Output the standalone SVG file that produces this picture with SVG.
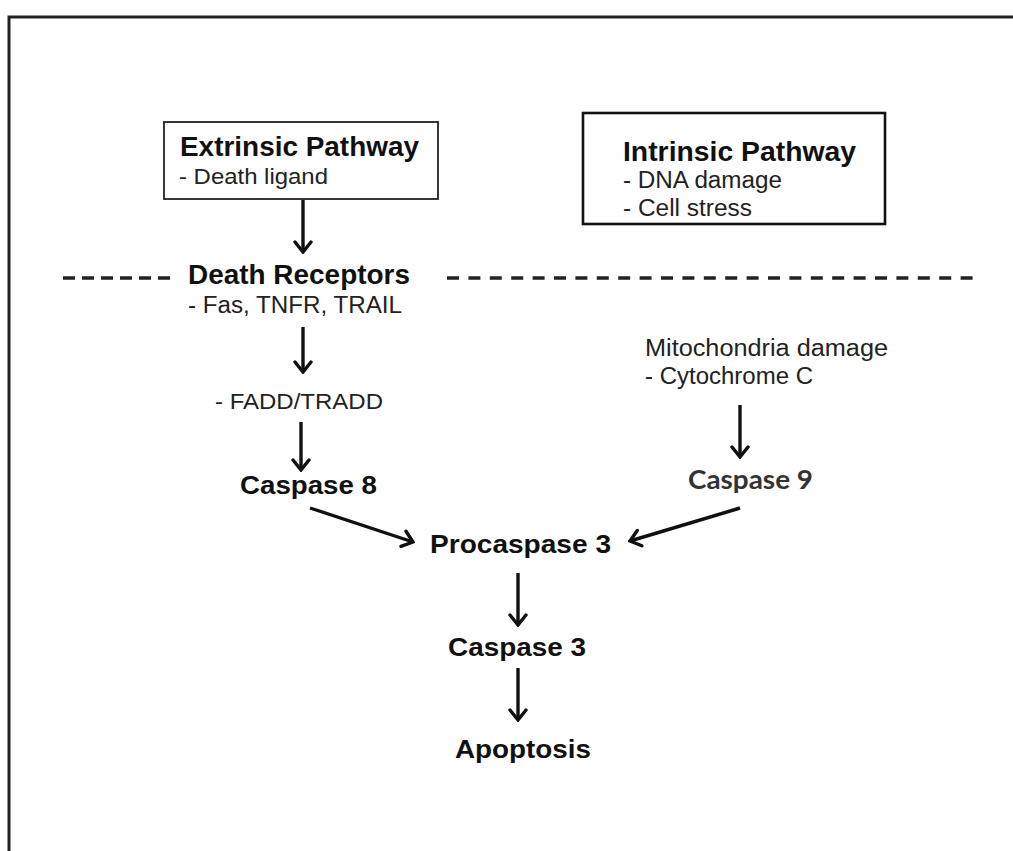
<svg xmlns="http://www.w3.org/2000/svg" width="1013" height="851" viewBox="0 0 1013 851">
  <defs>
    <marker id="head" viewBox="-13 -10 15 20" refX="0" refY="0" markerWidth="15" markerHeight="20" markerUnits="userSpaceOnUse" orient="auto">
      <path d="M-10,-8 L0,0 L-10,8" fill="none" stroke="#111" stroke-width="3.4" stroke-linecap="round" stroke-linejoin="miter"/>
    </marker>
    <style>
      .b { font-family: "Liberation Sans", Arial, sans-serif; font-weight: bold; fill: #111; }
      .r { font-family: "Liberation Sans", Arial, sans-serif; fill: #222; }
      .c { font-family: Lato, "Open Sans", sans-serif; font-weight: bold; fill: #333; }
      .arr { stroke: #111; stroke-width: 3.4; fill: none; marker-end: url(#head); }
      .dash { stroke: #222; stroke-width: 3.5; fill: none; }
    </style>
  </defs>
  <rect width="1013" height="851" fill="#fff"/>
  <rect id="frame" x="9" y="17" width="1012" height="845" fill="none" stroke="#222" stroke-width="3"/>

  <g id="divider">
    <line class="dash" x1="63" y1="278" x2="172" y2="278" stroke-dasharray="12 7"/>
    <line class="dash" x1="447" y1="278" x2="974" y2="278" stroke-dasharray="12 9.4"/>
  </g>

  <g id="extrinsic">
    <rect x="164" y="122" width="274" height="77" fill="#fff" stroke="#222" stroke-width="1.8"/>
    <text class="b" x="180" y="156" font-size="27" textLength="239" lengthAdjust="spacingAndGlyphs">Extrinsic Pathway</text>
    <text class="r" x="179" y="184" font-size="22" textLength="149" lengthAdjust="spacingAndGlyphs">- Death ligand</text>
  </g>

  <g id="intrinsic">
    <rect x="583" y="113" width="302" height="111" fill="#fff" stroke="#111" stroke-width="2.6"/>
    <text class="b" x="623" y="161" font-size="27" textLength="233" lengthAdjust="spacingAndGlyphs">Intrinsic Pathway</text>
    <text class="r" x="623" y="188" font-size="23" textLength="159" lengthAdjust="spacingAndGlyphs">- DNA damage</text>
    <text class="r" x="623" y="216" font-size="23" textLength="129" lengthAdjust="spacingAndGlyphs">- Cell stress</text>
  </g>

  <g id="death-receptors">
    <text class="b" x="188" y="284" font-size="27" textLength="222" lengthAdjust="spacingAndGlyphs">Death Receptors</text>
    <text class="r" x="188" y="313" font-size="23" textLength="214" lengthAdjust="spacingAndGlyphs">- Fas, TNFR, TRAIL</text>
  </g>

  <g id="fadd">
    <text class="r" x="215" y="409" font-size="22" textLength="168" lengthAdjust="spacingAndGlyphs">- FADD/TRADD</text>
  </g>

  <g id="caspase8">
    <text class="b" x="240" y="494" font-size="25" textLength="137" lengthAdjust="spacingAndGlyphs">Caspase 8</text>
  </g>

  <g id="mitochondria">
    <text class="r" x="645" y="356" font-size="23" textLength="243" lengthAdjust="spacingAndGlyphs">Mitochondria damage</text>
    <text class="r" x="645" y="384" font-size="23" textLength="168" lengthAdjust="spacingAndGlyphs">- Cytochrome C</text>
  </g>

  <g id="caspase9">
    <text class="c" x="688" y="489" font-size="27" textLength="125" lengthAdjust="spacingAndGlyphs">Caspase 9</text>
  </g>

  <g id="procaspase3">
    <text class="b" x="430" y="553" font-size="25" textLength="181" lengthAdjust="spacingAndGlyphs">Procaspase 3</text>
  </g>

  <g id="caspase3">
    <text class="b" x="448" y="656" font-size="25" textLength="138" lengthAdjust="spacingAndGlyphs">Caspase 3</text>
  </g>

  <g id="apoptosis">
    <text class="b" x="455" y="758" font-size="25" textLength="136" lengthAdjust="spacingAndGlyphs">Apoptosis</text>
  </g>

  <g id="connectors">
    <line class="arr" x1="303" y1="200" x2="303" y2="252"/>
    <line class="arr" x1="303" y1="327" x2="303" y2="372"/>
    <line class="arr" x1="301" y1="422" x2="301" y2="470"/>
    <line class="arr" x1="310" y1="508" x2="413" y2="542"/>
    <line class="arr" x1="740" y1="508" x2="630" y2="541"/>
    <line class="arr" x1="740" y1="405" x2="740" y2="457"/>
    <line class="arr" x1="518" y1="573" x2="518" y2="625"/>
    <line class="arr" x1="518" y1="668" x2="518" y2="720"/>
  </g>
</svg>
